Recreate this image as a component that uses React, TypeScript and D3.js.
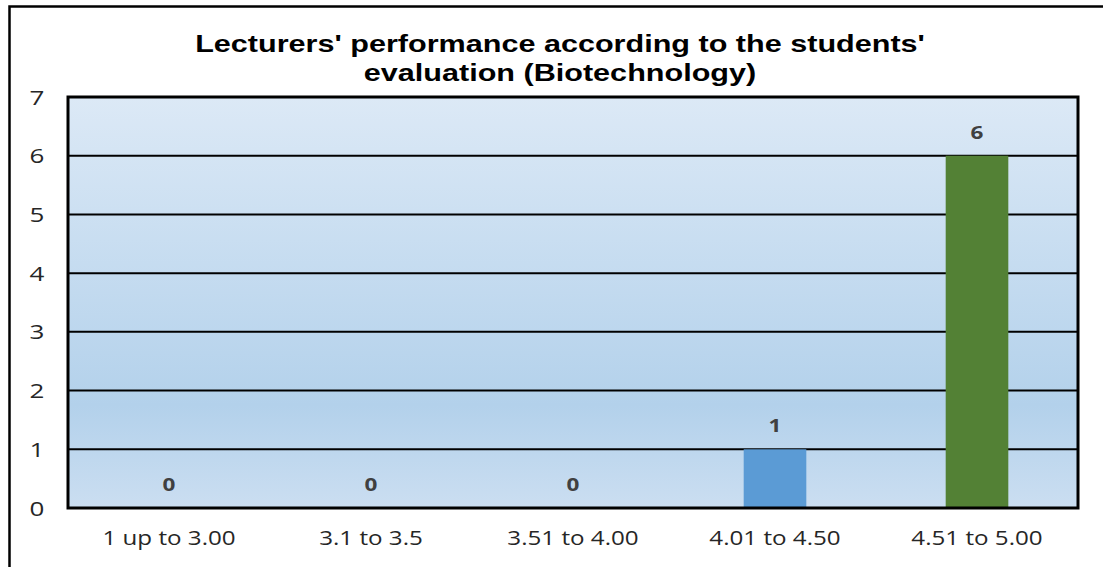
import React from "react";
import * as d3 from "d3";

const categories = ["1 up to 3.00", "3.1 to 3.5", "3.51 to 4.00", "4.01 to 4.50", "4.51 to 5.00"];
const values = [0, 0, 0, 1, 6];
const barColors = ["#5b9bd5", "#5b9bd5", "#5b9bd5", "#5b9bd5", "#538135"];
const yTicks = [0, 1, 2, 3, 4, 5, 6, 7];
const titleLines = ["Lecturers' performance according to the students'", "evaluation (Biotechnology)"];

function SText({ x, y, sx, children, ...rest }: any) {
  return (
    <g transform={`translate(${x},${y}) scale(${sx},1)`}>
      <text x={0} y={0} textAnchor="middle" {...rest}>{children}</text>
    </g>
  );
}

export default function App() {
  const W = 1103, H = 567;
  const left = 68, right = 1078, top = 97, bottom = 508;
  const x = d3.scaleBand<string>().domain(categories).range([left, right]).paddingInner(0.69).paddingOuter(0.345);
  const xc = d3.scaleBand<string>().domain(categories).range([left, right]);
  const y = d3.scaleLinear().domain([0, 7]).range([bottom, top]);
  const font = "Open Sans, sans-serif";
  return (
    <svg width={W} height={H} style={{ position: "absolute", left: 0, top: 0, background: "#fff" }}>
      <defs>
        <linearGradient id="bg" x1="0" y1="0" x2="0" y2="1">
          <stop offset="0" stopColor="#dce9f6" />
          <stop offset="0.75" stopColor="#b3d1eb" />
          <stop offset="1" stopColor="#cbdef1" />
        </linearGradient>
      </defs>
      <rect x={0} y={0} width={W} height={H} fill="#fff" />
      <path d={`M9.5,${H + 5} V6.5 H${W + 5}`} fill="none" stroke="#000" strokeWidth={2.5} />
      {titleLines.map((t, i) => (
        <SText key={i} x={560} y={52 + i * 29} sx={1.33} fontFamily="Liberation Sans, Arial, sans-serif" fontWeight="bold" fontSize={23} fill="#000">{t}</SText>
      ))}
      <rect x={left} y={top} width={right - left} height={bottom - top} fill="url(#bg)" />
      {yTicks.slice(1, -1).map((t) => (
        <line key={t} x1={left} x2={right} y1={y(t)} y2={y(t)} stroke="#000" strokeWidth={2} />
      ))}
      {categories.map((c, i) => (
        <rect key={c} x={x(c)} y={y(values[i])} width={x.bandwidth()} height={bottom - y(values[i])} fill={barColors[i]} />
      ))}
      <rect x={left} y={top} width={right - left} height={bottom - top} fill="none" stroke="#000" strokeWidth={3} />
      {yTicks.map((t) => (
        <SText key={t} x={37} y={y(t) + 7.5} sx={1.3} fontFamily={font} fontSize={20} fill="#262626">{t}</SText>
      ))}
      {categories.map((c) => (
        <SText key={c} x={(xc(c) as number) + xc.bandwidth() / 2} y={545} sx={1.24} fontFamily={font} fontSize={19.5} fill="#262626">{c}</SText>
      ))}
      {categories.map((c, i) => (
        <SText key={c} x={(xc(c) as number) + xc.bandwidth() / 2} y={y(values[i]) - 17} sx={1.25} fontFamily={font} fontWeight="bold" fontSize={18} fill="#404040">{values[i]}</SText>
      ))}
    </svg>
  );
}
